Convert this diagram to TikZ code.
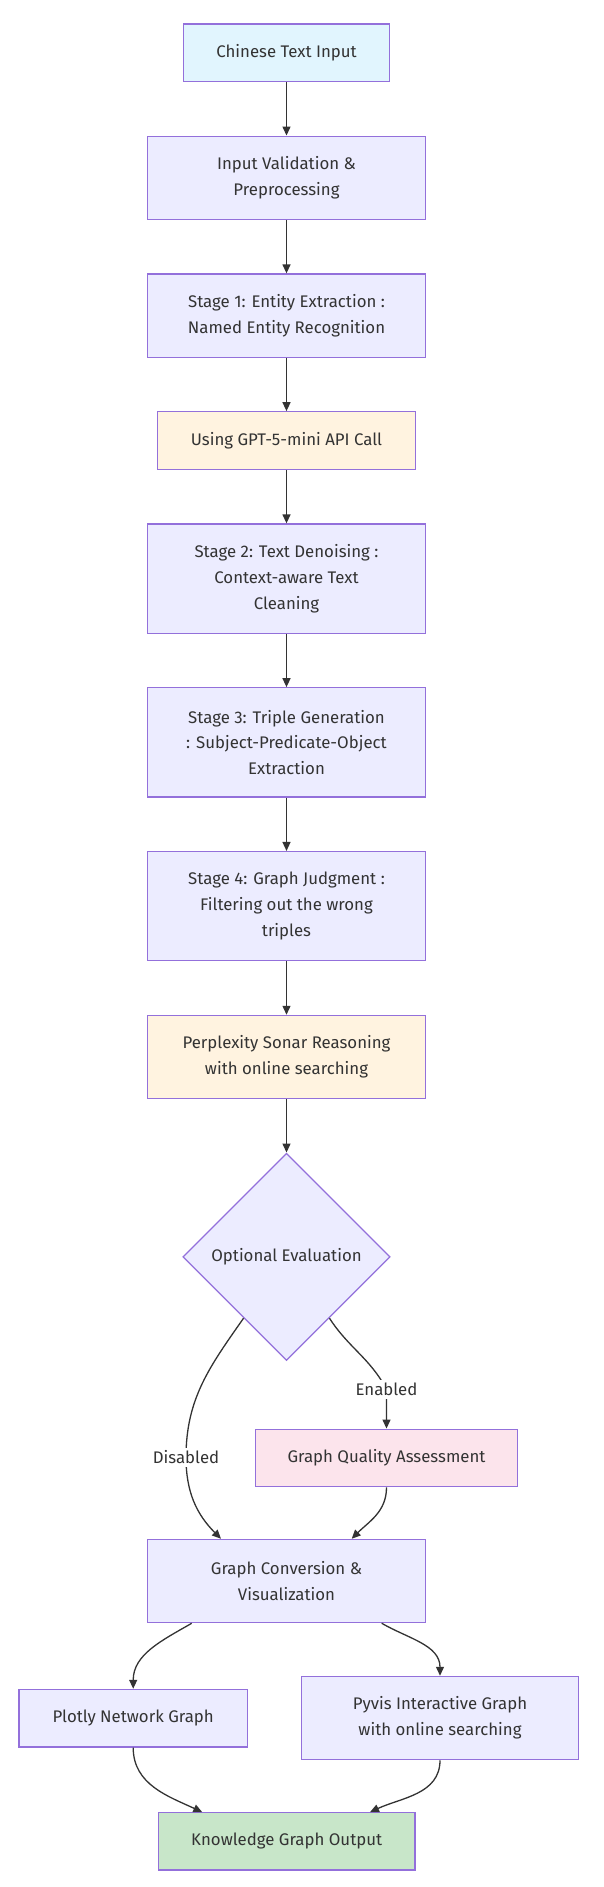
\documentclass[tikz,border=0pt]{standalone}
\usepackage{fontspec}
\setmainfont{Fira Sans}
\usepackage{xcolor}
\usepackage{tikz}
\usetikzlibrary{shapes,arrows,positioning,calc,arrows.meta}

\definecolor{kgline}{HTML}{9370DB}
\definecolor{kgfill}{HTML}{ECECFF}
\definecolor{kgtext}{HTML}{333333}
\definecolor{kgblue}{HTML}{E1F5FE}
\definecolor{kgorange}{HTML}{FFF3E0}
\definecolor{kgpink}{HTML}{FCE4EC}
\definecolor{kggreen}{HTML}{C8E6C9}

\begin{document}
\begin{tikzpicture}[x=1pt, y=1pt,
    kg block/.style={draw=kgline, fill=kgfill, line width=1.2pt, rectangle, minimum width=278.4pt, minimum height=83.3pt, align=center, text=kgtext, font=\fontsize{16.8}{25.8}\selectfont},
    kg decision/.style={kg block, diamond, aspect=1, minimum width=207.4pt, minimum height=207.4pt, inner sep=0pt},
    kg label/.style={fill=white, text=kgtext, inner sep=3pt, font=\fontsize{16.8}{19}\selectfont},
    kg flow/.style={draw=kgtext, line width=1.3pt, -{Triangle[length=9pt, width=8pt]}},
    node distance=53.3pt]
    \useasboundingbox (0,0) rectangle (604,-1887);

    % main chain
    \node[kg block, fill=kgblue, minimum width=206pt, minimum height=57.7pt] (input) at (286.5,-52.8) {Chinese Text Input};
    \node[kg block, below=of input] (valid) {Input Validation \&\\Preprocessing};
    \node[kg block, below=of valid] (stage1) {Stage 1: Entity Extraction :\\Named Entity Recognition};
    \node[kg block, fill=kgorange, minimum width=258pt, minimum height=57.7pt, below=of stage1] (gpt) {Using GPT-5-mini API Call};
    \node[kg block, minimum height=109.3pt, below=of gpt] (stage2) {Stage 2: Text Denoising :\\Context-aware Text\\Cleaning};
    \node[kg block, minimum height=109.3pt, below=of stage2] (stage3) {Stage 3: Triple Generation\\: Subject-Predicate-Object\\Extraction};
    \node[kg block, minimum height=109.3pt, below=of stage3] (stage4) {Stage 4: Graph Judgment :\\Filtering out the wrong\\triples};
    \node[kg block, fill=kgorange, below=of stage4] (sonar) {Perplexity Sonar Reasoning\\with online searching};
    \node[kg decision, below=of sonar] (opt) {Optional Evaluation};

    % evaluation and output
    \node[kg block, fill=kgpink, minimum width=261.6pt, minimum height=57.7pt] (quality) at (386.5,-1458) {Graph Quality Assessment};
    \node[kg block, minimum width=277.6pt] (conv) at (286.5,-1581) {Graph Conversion \&\\Visualization};
    \node[kg block, minimum width=228.3pt, minimum height=57.7pt] (plotly) at (133.2,-1718.2) {Plotly Network Graph};
    \node[kg block, minimum width=276.6pt] (pyvis) at (440,-1718) {Pyvis Interactive Graph\\with online searching};
    \node[kg block, fill=kggreen, minimum width=256.7pt, minimum height=57.3pt] (kgout) at (286.7,-1841.4) {Knowledge Graph Output};
    \coordinate (disbend) at (186,-1457.3);
    \coordinate (enbend) at (386.5,-1389.3);

    \draw[kg flow] (input) -- (valid);
    \draw[kg flow] (valid) -- (stage1);
    \draw[kg flow] (stage1) -- (gpt);
    \draw[kg flow] (gpt) -- (stage2);
    \draw[kg flow] (stage2) -- (stage3);
    \draw[kg flow] (stage3) -- (stage4);
    \draw[kg flow] (stage4) -- (sonar);
    \draw[kg flow] (sonar) -- (opt);
    \draw[kg flow] (opt.235) to[out=-125, in=90] (disbend) node[kg label] {Disabled} to[out=-90, in=135] ([xshift=-65.5pt]conv.north);
    \draw[kg flow] (opt.-55) to[out=-57, in=118] (enbend) node[kg label] {Enabled} -- (quality.north);
    \draw[kg flow] (quality.south) to[out=-90, in=45] ([xshift=65.2pt]conv.north);
    \draw[kg flow] ([xshift=-94.8pt]conv.south) to[out=-150, in=90] (plotly.north);
    \draw[kg flow] ([xshift=95.2pt]conv.south) to[out=-30, in=90] (pyvis.north);
    \draw[kg flow] (plotly.south) to[out=-90, in=155] ([xshift=-84.4pt]kgout.north);
    \draw[kg flow] (pyvis.south) to[out=-90, in=25] ([xshift=83.3pt]kgout.north);
\end{tikzpicture}
\end{document}
